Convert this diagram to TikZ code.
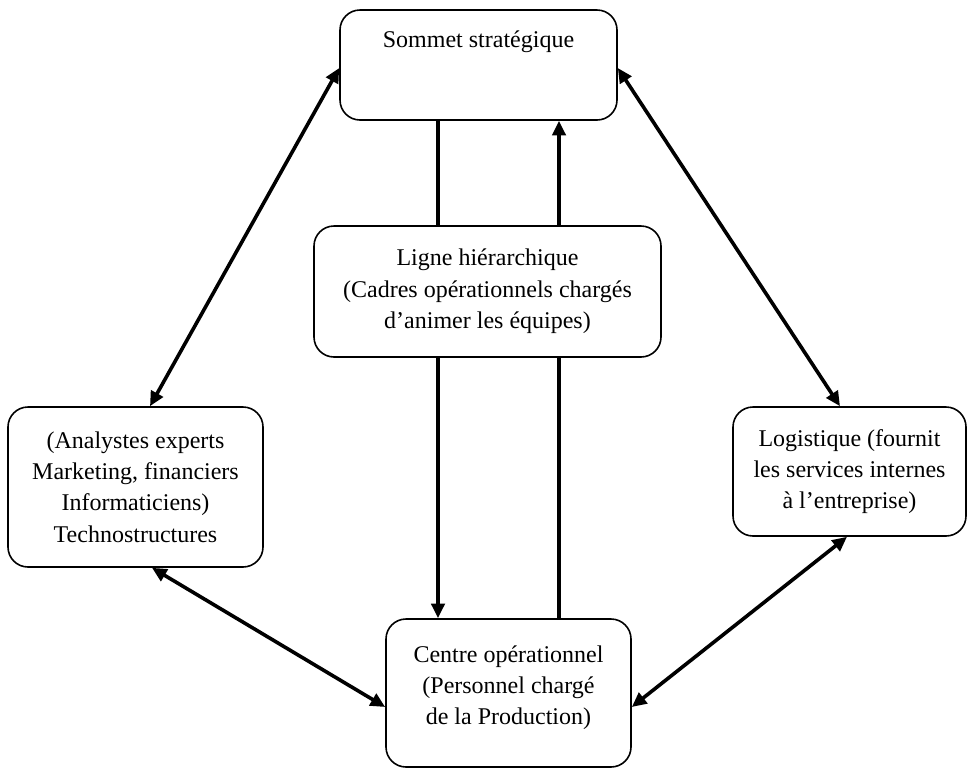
\documentclass[tikz,border=0pt]{standalone}
\usepackage{fontspec}
\setmainfont{Liberation Serif}
\usetikzlibrary{arrows.meta}
\begin{document}
\begin{tikzpicture}[x=0.75pt,y=-0.75pt,
  box/.style={draw, line width=1.2pt, rounded corners=15pt, inner sep=0pt,
    align=center, font=\fontsize{18}{23.5}\selectfont},
  link/.style={line width=2.7pt},
  tip/.style={-{Triangle[length=11pt,width=10pt]}},
  tips/.style={{Triangle[length=11pt,width=10pt]}-{Triangle[length=11pt,width=10pt]}}]
\useasboundingbox (0,0) rectangle (967,769);

% the five units of the organisation
\node[box, minimum width=207.75pt, minimum height=82.5pt,
  label={[anchor=base, yshift=-29pt, font=\fontsize{18}{23.5}\selectfont]north:Sommet stratégique}]
  (top) at (478.5,65) {};
\node[box, minimum width=260.25pt, minimum height=98.25pt] (mid) at (487.5,291.5)
  {Ligne hiérarchique\\(Cadres opérationnels chargés\\d’animer les équipes)};
\node[box, minimum width=191.25pt, minimum height=120pt] (tech) at (135.5,487)
  {(Analystes experts\\Marketing, financiers\\Informaticiens)\\Technostructures};
\node[box, minimum width=174.75pt, minimum height=96.75pt] (log) at (849.5,471.5)
  {Logistique (fournit\\les services internes\\à l’entreprise)};
\node[box, minimum width=183.75pt, minimum height=111pt] (bot) at (508.5,693)
  {Centre opérationnel\\(Personnel chargé\\de la Production)\\[-11.5pt]};

% vertical links through the hierarchy
\draw[link] (top.south -| 438,0) -- (mid.north -| 438,0);
\draw[link, tip] (mid.north -| 559,0) -- (top.south -| 559,0);
\draw[link, tip] (mid.south -| 438,0) -- (bot.north -| 438,0);
\draw[link] (bot.north -| 559,0) -- (mid.south -| 559,0);

% two-way links round the outside
\draw[link, tips] (top.west |- 0,68) -- (tech.north -| 150,0);
\draw[link, tips] (top.east |- 0,68) -- (log.north -| 840,0);
\draw[link, tips] (tech.south -| 152,0) -- (bot.west |- 0,707);
\draw[link, tips] (log.south -| 847,0) -- (bot.east |- 0,707);
\end{tikzpicture}
\end{document}
